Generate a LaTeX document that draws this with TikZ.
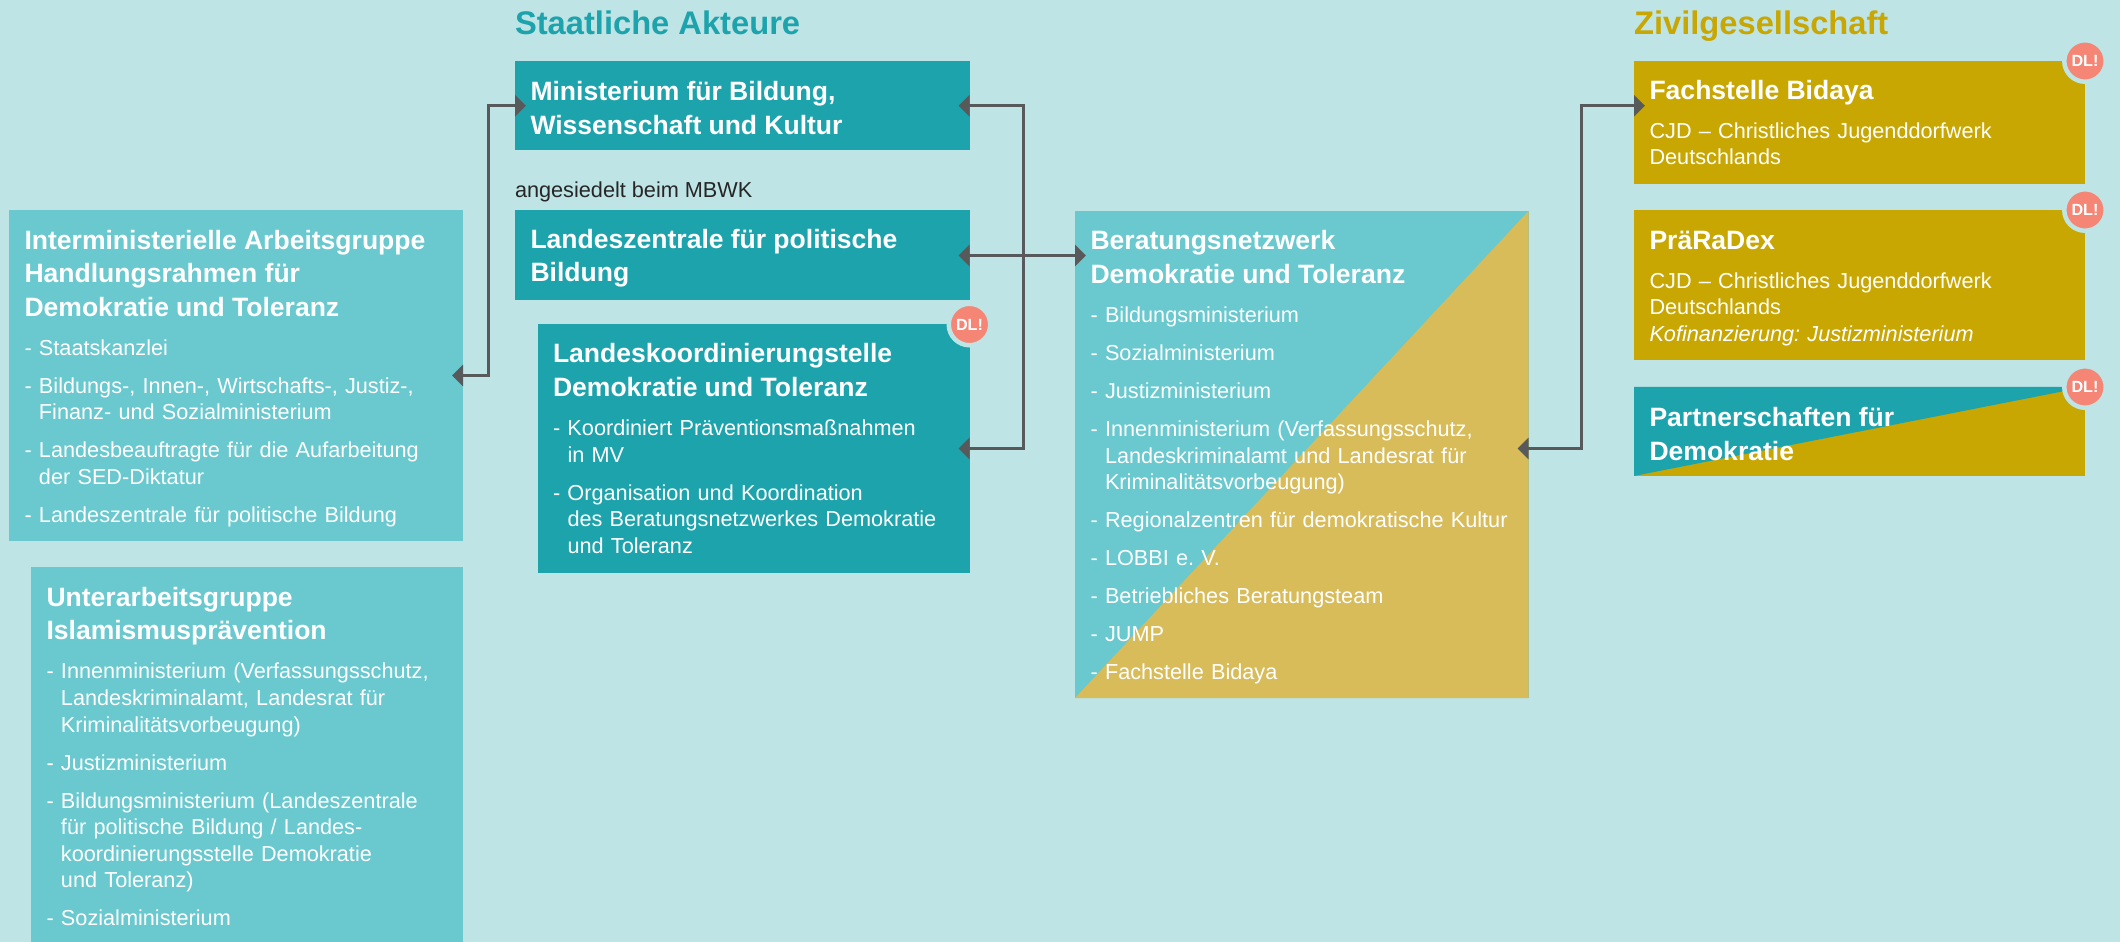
\documentclass[tikz,border=0pt]{standalone}
\usepackage{fontspec}
\setmainfont{Liberation Sans}
\usetikzlibrary{arrows.meta, positioning}

\definecolor{bgblue}{HTML}{BEE4E6}
\definecolor{darkteal}{HTML}{1DA3AC}
\definecolor{lightteal}{HTML}{69C9CF}
\definecolor{gold}{HTML}{C9A703}
\definecolor{lightgold}{HTML}{D8BC5A}
\definecolor{salmon}{HTML}{F58675}
\definecolor{linegrey}{HTML}{58595B}

\frenchspacing
\newcommand{\boxhead}[2][0.253cm]{{\fontsize{7.55pt}{9.55pt}\bfseries\selectfont\rule{0pt}{#1}#2\par}\vspace{0.01cm}}
\newcommand{\boxitem}[1]{\vspace{0.115cm}{\hangindent=0.145cm\hangafter=1\noindent\makebox[0.145cm][l]{-}#1\par}}

\begin{document}
\begin{tikzpicture}[
                >={Triangle[length=0.11cm, width=0.21cm]},
                box/.style={rectangle, inner xsep=0.155cm, inner ysep=0cm, outer sep=0cm, align=left, text=white, font=\fontsize{6.17pt}{7.55pt}\selectfont},
                darkbox/.style={box, fill=darkteal},
                lightbox/.style={box, fill=lightteal},
                goldbox/.style={box, fill=gold},
                heading/.style={font=\fontsize{9.3pt}{11pt}\bfseries\selectfont, inner sep=0cm, outer sep=0cm, text depth=0cm},
                badge/.style={circle, fill=salmon, draw=bgblue, line width=0.045cm, minimum size=0.415cm, inner sep=0cm, outer sep=0cm, text=white, font=\fontsize{4.6pt}{6pt}\bfseries\selectfont},
                arrow/.style={<->, draw=linegrey, line width=0.03cm, shorten <=-0.11cm, shorten >=-0.11cm}
            ]
                \useasboundingbox[fill=bgblue] (0,0) rectangle (21.2,-9.42);

                % staatliche Akteure
                \node[darkbox, anchor=north west, text width=4.235cm, minimum height=0.895cm] (mbwk) at (5.15,-0.61) {\boxhead{Ministerium für Bildung,\\Wissenschaft und Kultur}};
                \node[darkbox, below=0.6cm of mbwk, text width=4.235cm, minimum height=0.9cm] (lzpb) {\boxhead{Landeszentrale für politische\\Bildung}};
                \node[darkbox, below=0.24cm of lzpb.south east, anchor=north east, text width=4.01cm, minimum height=2.48cm] (lako) {\boxhead[0cm]{Landeskoordinierungstelle\\Demokratie und Toleranz}
                    \boxitem{Koordiniert Präventionsmaßnahmen\newline in MV}
                    \boxitem{Organisation und Koordination\newline des Beratungsnetzwerkes Demokratie\newline und Toleranz}};
                \node[heading, text=darkteal, above=0.26cm of mbwk.north west, anchor=south west] (staat) {Staatliche Akteure};
                \node[above=0.08cm of lzpb.north west, anchor=south west, inner sep=0cm, outer sep=0cm, text=black!85, font=\fontsize{6.17pt}{7.55pt}\selectfont] (mbwklabel) {angesiedelt beim MBWK};

                % Arbeitsgruppen
                \node[lightbox, anchor=north west, text width=4.23cm, minimum height=3.31cm] (imag) at (0.09,-2.10) {\boxhead{Interministerielle Arbeitsgruppe\\Handlungsrahmen für\\Demokratie und Toleranz}
                    \boxitem{Staatskanzlei}
                    \boxitem{Bildungs-, Innen-, Wirtschafts-, Justiz-,\newline Finanz- und Sozialministerium}
                    \boxitem{Landesbeauftragte für die Aufarbeitung\newline der SED-Diktatur}
                    \boxitem{Landeszentrale für politische Bildung}};
                \node[lightbox, below=0.26cm of imag.south east, anchor=north east, text width=4.01cm, minimum height=3.75cm] (uag) {\boxhead[0.233cm]{Unterarbeitsgruppe\\Islamismusprävention}
                    \boxitem{Innenministerium (Verfassungsschutz,\newline Landeskriminalamt, Landesrat für\newline Kriminalitätsvorbeugung)}
                    \boxitem{Justizministerium}
                    \boxitem{Bildungsministerium (Landeszentrale\newline für politische Bildung / Landes-\newline koordinierungsstelle Demokratie\newline und Toleranz)}
                    \boxitem{Sozialministerium}};

                % Beratungsnetzwerk
                \node[lightbox, anchor=north west, text width=4.225cm, minimum height=4.87cm, path picture={\fill[lightgold] (path picture bounding box.north east) -- (path picture bounding box.south east) -- (path picture bounding box.south west) -- cycle;}] (bnet) at (10.75,-2.11) {\boxhead{Beratungsnetzwerk\\Demokratie und Toleranz}
                    \boxitem{Bildungsministerium}
                    \boxitem{Sozialministerium}
                    \boxitem{Justizministerium}
                    \boxitem{Innenministerium (Verfassungsschutz,\newline Landeskriminalamt und Landesrat für\newline Kriminalitätsvorbeugung)}
                    \boxitem{Regionalzentren für demokratische Kultur}
                    \boxitem{LOBBI e. V.}
                    \boxitem{Betriebliches Beratungsteam}
                    \boxitem{JUMP}
                    \boxitem{Fachstelle Bidaya}};

                % Zivilgesellschaft
                \node[goldbox, anchor=north west, text width=4.2cm, minimum height=1.23cm] (fach) at (16.34,-0.61) {\boxhead[0cm]{Fachstelle Bidaya}
                    \vspace{0.115cm}CJD – Christliches Jugenddorfwerk\newline Deutschlands};
                \node[goldbox, below=0.26cm of fach, text width=4.2cm, minimum height=1.5cm] (prd) {\boxhead{PräRaDex}
                    \vspace{0.115cm}CJD – Christliches Jugenddorfwerk\newline Deutschlands\newline \textit{Kofinanzierung: Justizministerium}};
                \node[goldbox, below=0.27cm of prd, text width=4.2cm, minimum height=0.89cm, path picture={\fill[darkteal] (path picture bounding box.north west) -- (path picture bounding box.north east) -- (path picture bounding box.south west) -- cycle;}] (pfd) {\boxhead{Partnerschaften für\\Demokratie}};
                \node[heading, text=gold, above=0.26cm of fach.north west, anchor=south west] (zivil) {Zivilgesellschaft};

                % DL-Marken
                \node[badge] (dl1) at (lako.north east) {DL!};
                \node[badge] (dl2) at (fach.north east) {DL!};
                \node[badge] (dl3) at (prd.north east) {DL!};
                \node[badge] (dl4) at (pfd.north east) {DL!};

                \coordinate (busa) at (4.88,0);
                \coordinate (busb) at (10.235,0);
                \coordinate (busc) at (15.81,0);

                \draw[arrow] (imag.east) -- (busa |- imag.east) -- (busa |- mbwk.west) -- (mbwk.west);
                \draw[arrow] (mbwk.east) -- (busb |- mbwk.east) -- (busb |- lako.east) -- (lako.east);
                \draw[arrow] (lzpb.east) -- (lzpb.east -| bnet.west);
                \draw[arrow] (bnet.east |- lako.east) -- (busc |- lako.east) -- (busc |- mbwk.east) -- (fach.west |- mbwk.east);
            \end{tikzpicture}
\end{document}
